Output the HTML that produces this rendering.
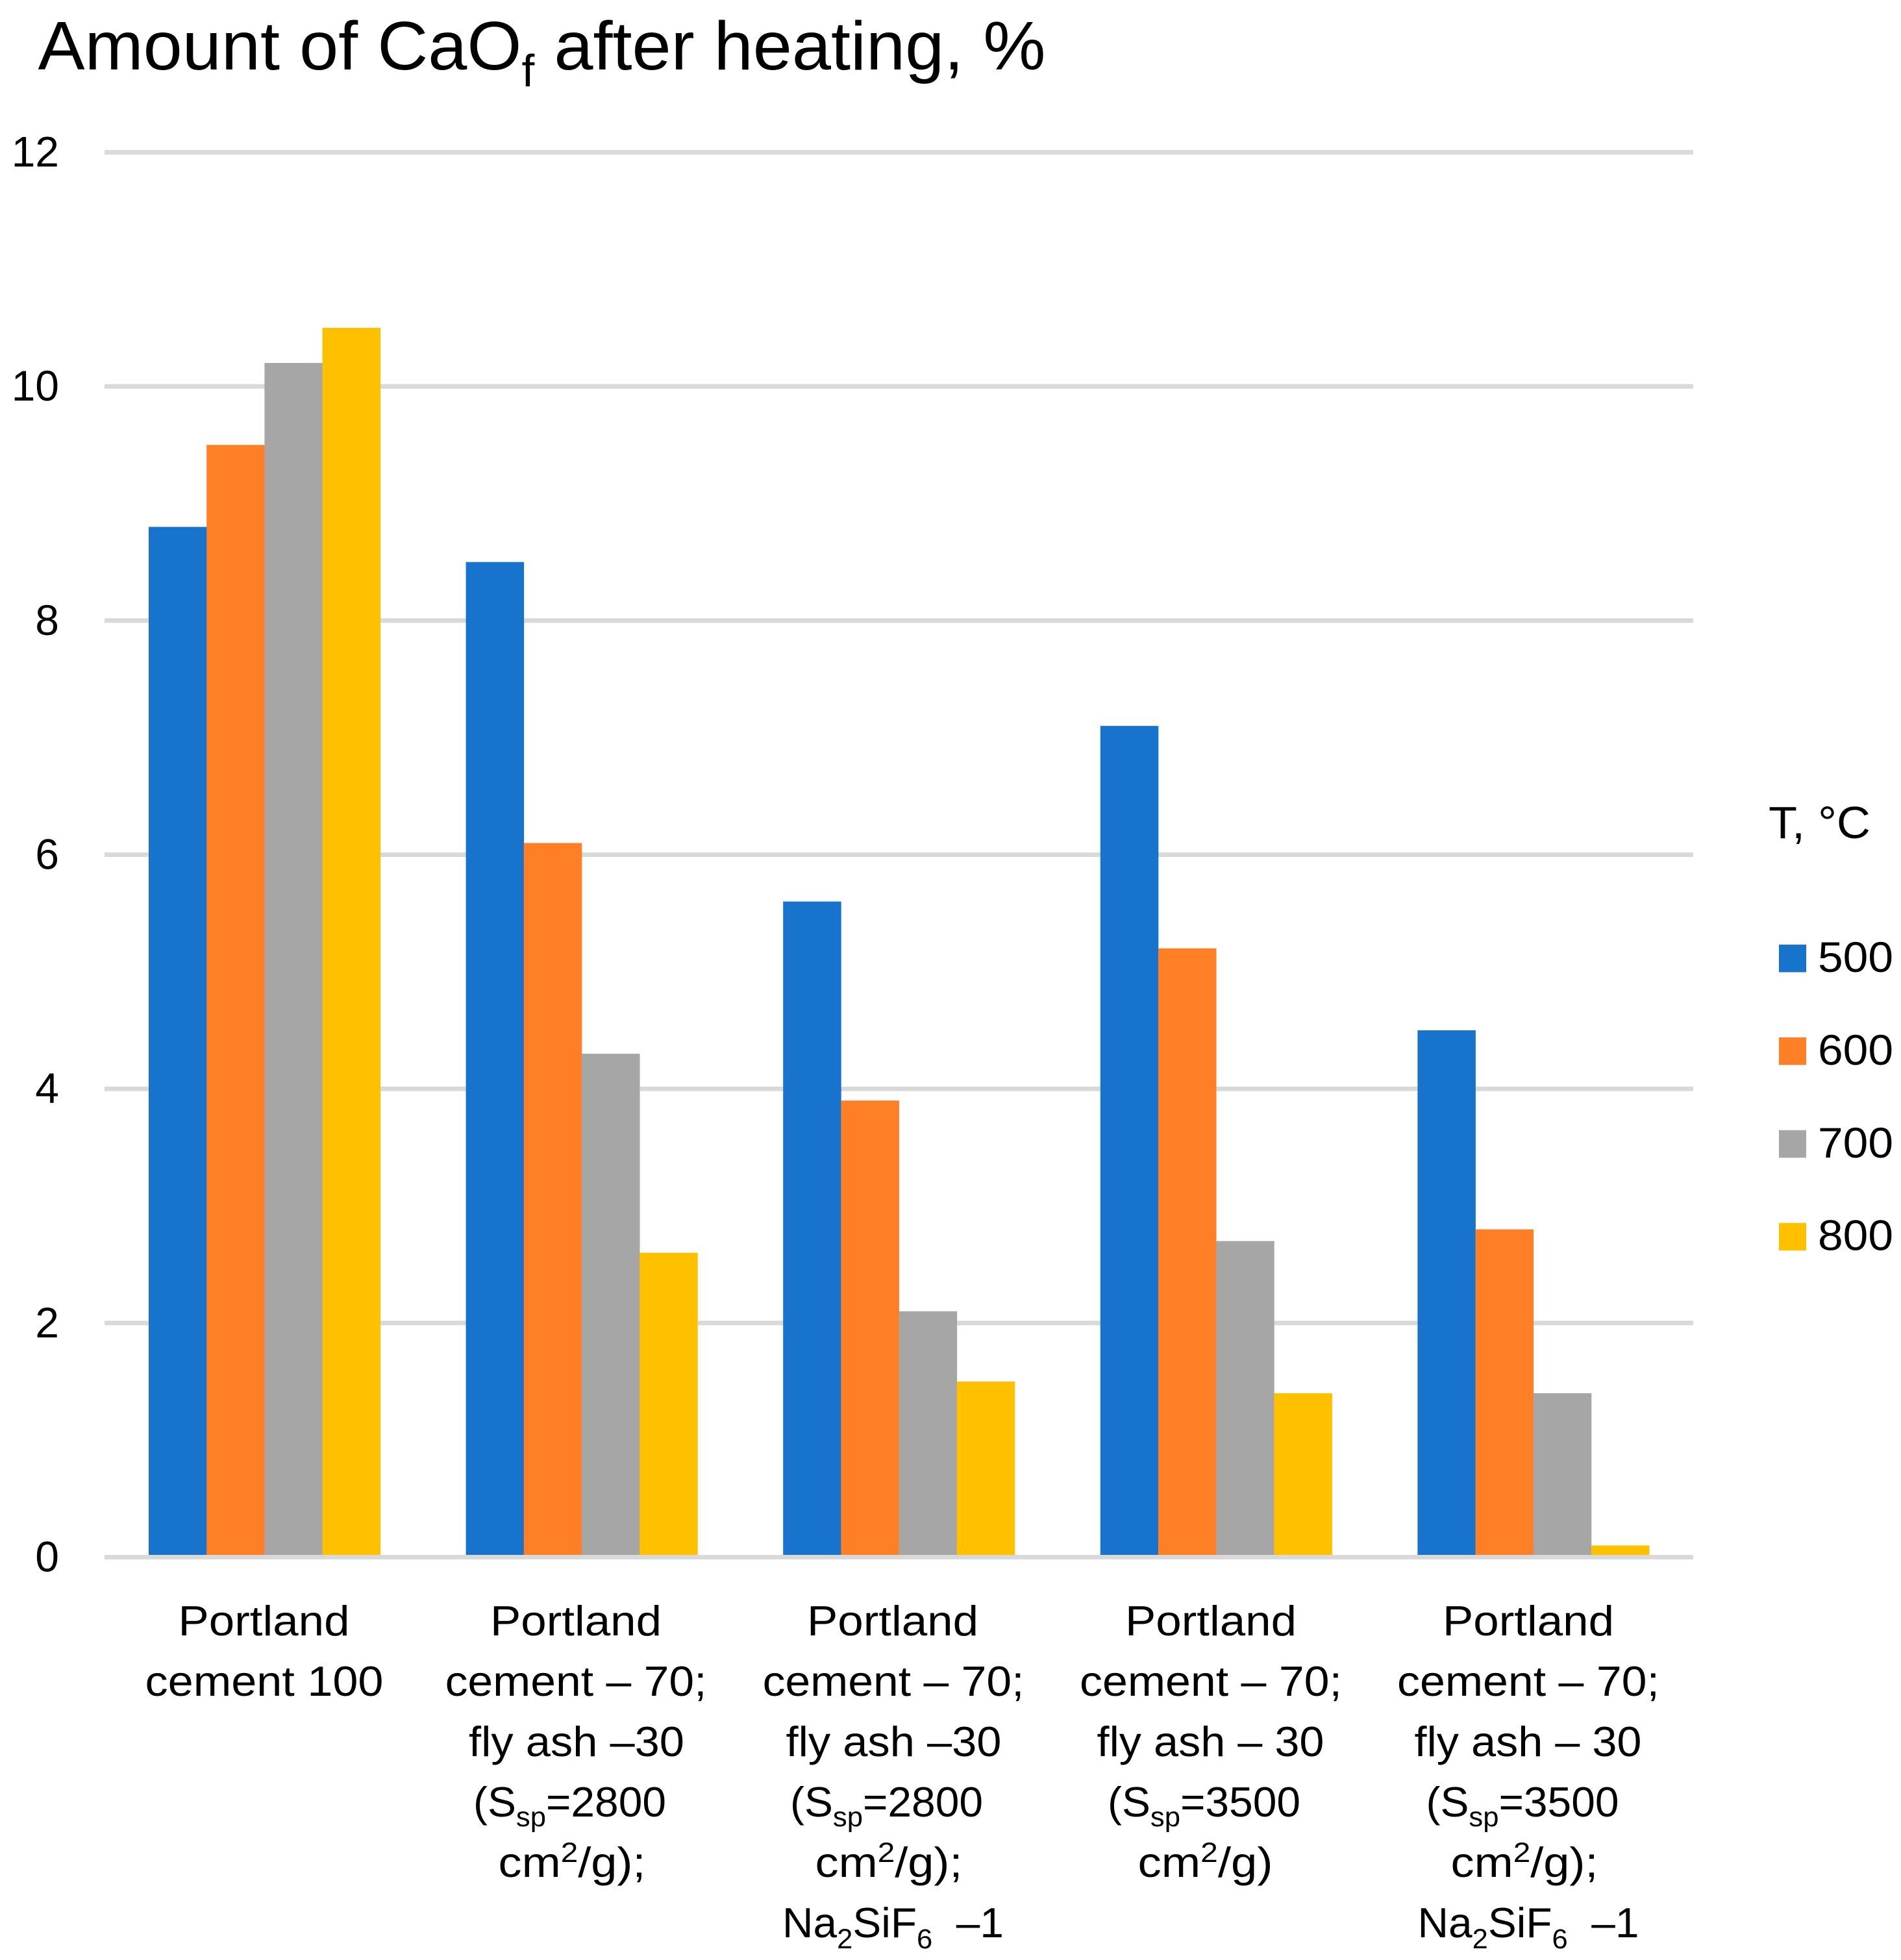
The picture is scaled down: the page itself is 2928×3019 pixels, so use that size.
<!DOCTYPE html>
<html lang="en">
<head>
<meta charset="utf-8">
<title>Amount of CaOf after heating</title>
<style>
html,body{margin:0;padding:0;background:#fff;}
svg{display:block;}
text{font-family:"Liberation Sans",sans-serif;fill:#000;}
.cat{font-size:65px;text-anchor:middle;}
.sub{font-size:43px;}
</style>
</head>
<body>
<svg id="chart" xmlns="http://www.w3.org/2000/svg" width="2928" height="3019" viewBox="0 0 2928 3019">
  <rect x="0" y="0" width="2928" height="3019" fill="#ffffff"/>
  <g id="grid"></g>
  <g id="bars"></g>
  <g id="axis"></g>
  <g id="yticks"></g>

  <text class="fit" data-cx="834.5" data-y="107" data-w="1552" font-size="106" text-anchor="middle">Amount of CaO<tspan font-size="70" dy="26">f</tspan><tspan dy="-26"> after heating, %</tspan></text>

  <g>
    <g>
      <text class="cat fit" data-cx="406.5" data-y="2519" data-w="264">Portland</text>
      <text class="cat fit" data-cx="407" data-y="2612" data-w="367">cement 100</text>
    </g>
    <g>
      <text class="cat fit" data-cx="887" data-y="2519" data-w="264">Portland</text>
      <text class="cat fit" data-cx="887" data-y="2612" data-w="403">cement – 70;</text>
      <text class="cat fit" data-cx="888" data-y="2705" data-w="332">fly ash –30</text>
      <text class="cat fit" data-cx="877.5" data-y="2798" data-w="297">(S<tspan class="sub" dy="15">sp</tspan><tspan dy="-15">=2800</tspan></text>
      <text class="cat fit" data-cx="881" data-y="2891" data-w="227">cm<tspan class="sub" dy="-23">2</tspan><tspan dy="23">/g);</tspan></text>
    </g>
    <g>
      <text class="cat fit" data-cx="1375" data-y="2519" data-w="264">Portland</text>
      <text class="cat fit" data-cx="1376" data-y="2612" data-w="403">cement – 70;</text>
      <text class="cat fit" data-cx="1376.5" data-y="2705" data-w="332">fly ash –30</text>
      <text class="cat fit" data-cx="1365.5" data-y="2798" data-w="297">(S<tspan class="sub" dy="15">sp</tspan><tspan dy="-15">=2800</tspan></text>
      <text class="cat fit" data-cx="1369" data-y="2891" data-w="227">cm<tspan class="sub" dy="-23">2</tspan><tspan dy="23">/g);</tspan></text>
      <text class="cat fit" data-cx="1375.5" data-y="2984" data-w="341">Na<tspan class="sub" dy="17">2</tspan><tspan dy="-17">SiF</tspan><tspan class="sub" dy="17">6</tspan><tspan dy="-17">&#160;&#160;–1</tspan></text>
    </g>
    <g>
      <text class="cat fit" data-cx="1865" data-y="2519" data-w="264">Portland</text>
      <text class="cat fit" data-cx="1865" data-y="2612" data-w="404">cement – 70;</text>
      <text class="cat fit" data-cx="1864.5" data-y="2705" data-w="350">fly ash – 30</text>
      <text class="cat fit" data-cx="1854.5" data-y="2798" data-w="297">(S<tspan class="sub" dy="15">sp</tspan><tspan dy="-15">=3500</tspan></text>
      <text class="cat fit" data-cx="1856.5" data-y="2891" data-w="208">cm<tspan class="sub" dy="-23">2</tspan><tspan dy="23">/g)</tspan></text>
    </g>
    <g>
      <text class="cat fit" data-cx="2354" data-y="2519" data-w="264">Portland</text>
      <text class="cat fit" data-cx="2354" data-y="2612" data-w="404">cement – 70;</text>
      <text class="cat fit" data-cx="2353.5" data-y="2705" data-w="350">fly ash – 30</text>
      <text class="cat fit" data-cx="2345" data-y="2798" data-w="297">(S<tspan class="sub" dy="15">sp</tspan><tspan dy="-15">=3500</tspan></text>
      <text class="cat fit" data-cx="2348" data-y="2891" data-w="227">cm<tspan class="sub" dy="-23">2</tspan><tspan dy="23">/g);</tspan></text>
      <text class="cat fit" data-cx="2354" data-y="2984" data-w="341">Na<tspan class="sub" dy="17">2</tspan><tspan dy="-17">SiF</tspan><tspan class="sub" dy="17">6</tspan><tspan dy="-17">&#160;&#160;–1</tspan></text>
    </g>
  </g>

  <g id="legend">
    <text class="fit" data-cx="2802.5" data-y="1291" data-w="157" font-size="70" text-anchor="middle">T, °C</text>
  </g>
</svg>
<script>
const categories = ["Portland cement 100", "PC70 FA30 2800", "PC70 FA30 2800 Na2SiF6", "PC70 FA30 3500", "PC70 FA30 3500 Na2SiF6"];
const seriesNames = ["500", "600", "700", "800"];
const series500 = [8.8, 8.5, 5.6, 7.1, 4.5];
const series600 = [9.5, 6.1, 3.9, 5.2, 2.8];
const series700 = [10.2, 4.3, 2.1, 2.7, 1.4];
const series800 = [10.5, 2.6, 1.5, 1.4, 0.1];
const yTicks = [0, 2, 4, 6, 8, 10, 12];

const seriesValues = [series500, series600, series700, series800];
const seriesColors = ["#1873CC", "#FF7F27", "#A6A6A6", "#FFC000"];
const SVGNS = "http://www.w3.org/2000/svg";
const plotLeft = 161, plotRight = 2608;
const y0 = 2398.5, yMax = 234.5, maxTick = 12;
const firstGroupLeft = 229, groupStep = 488.6, barWidth = 89.2;

function yScale(v) { return y0 - (v / maxTick) * (y0 - yMax); }
function xScale(groupIndex, seriesIndex) {
  return firstGroupLeft + groupIndex * groupStep + seriesIndex * barWidth;
}

const gridGroup = document.getElementById("grid");
const tickGroup = document.getElementById("yticks");
const axisGroup = document.getElementById("axis");
yTicks.forEach(function (t) {
  const line = document.createElementNS(SVGNS, "rect");
  line.setAttribute("x", plotLeft);
  line.setAttribute("y", yScale(t) - 3.5);
  line.setAttribute("width", plotRight - plotLeft);
  line.setAttribute("height", 7);
  line.setAttribute("fill", "#D9D9D9");
  
  
  (t === 0 ? axisGroup : gridGroup).appendChild(line);

  const label = document.createElementNS(SVGNS, "text");
  label.setAttribute("x", 91);
  label.setAttribute("y", yScale(t) + 22);
  label.setAttribute("font-size", 66);
  label.setAttribute("text-anchor", "end");
  label.textContent = String(t);
  
  
  tickGroup.appendChild(label);
});

const barGroup = document.getElementById("bars");
seriesValues.forEach(function (values, s) {
  values.forEach(function (v, g) {
    const bar = document.createElementNS(SVGNS, "rect");
    bar.setAttribute("x", xScale(g, s));
    bar.setAttribute("y", yScale(v));
    bar.setAttribute("width", barWidth + 0.3);
    bar.setAttribute("height", y0 - yScale(v));
    bar.setAttribute("fill", seriesColors[s]);
    
    
    barGroup.appendChild(bar);
  });
});

const legendGroup = document.getElementById("legend");
seriesNames.forEach(function (name, i) {
  const rowY = 1455 + i * 142.9;
  const swatch = document.createElementNS(SVGNS, "rect");
  swatch.setAttribute("x", 2740);
  swatch.setAttribute("y", rowY);
  swatch.setAttribute("width", 42);
  swatch.setAttribute("height", 42.5);
  swatch.setAttribute("fill", seriesColors[i]);
  
  
  legendGroup.appendChild(swatch);

  const text = document.createElementNS(SVGNS, "text");
  text.setAttribute("class", "fit");
  text.setAttribute("font-size", 66);
  text.setAttribute("text-anchor", "middle");
  text.setAttribute("data-cx", 2858);
  text.setAttribute("data-y", rowY + 42);
  text.setAttribute("data-w", 116);
  text.textContent = name;
  
  
  legendGroup.appendChild(text);
});

document.querySelectorAll("text.fit").forEach(function (el) {
  const natural = el.getComputedTextLength();
  const target = parseFloat(el.getAttribute("data-w"));
  const cx = el.getAttribute("data-cx");
  const y = el.getAttribute("data-y");
  const sx = natural > 0 ? target / natural : 1;
  el.setAttribute("transform", "translate(" + cx + " " + y + ") scale(" + sx + " 1)");
});
</script>
</body>
</html>
